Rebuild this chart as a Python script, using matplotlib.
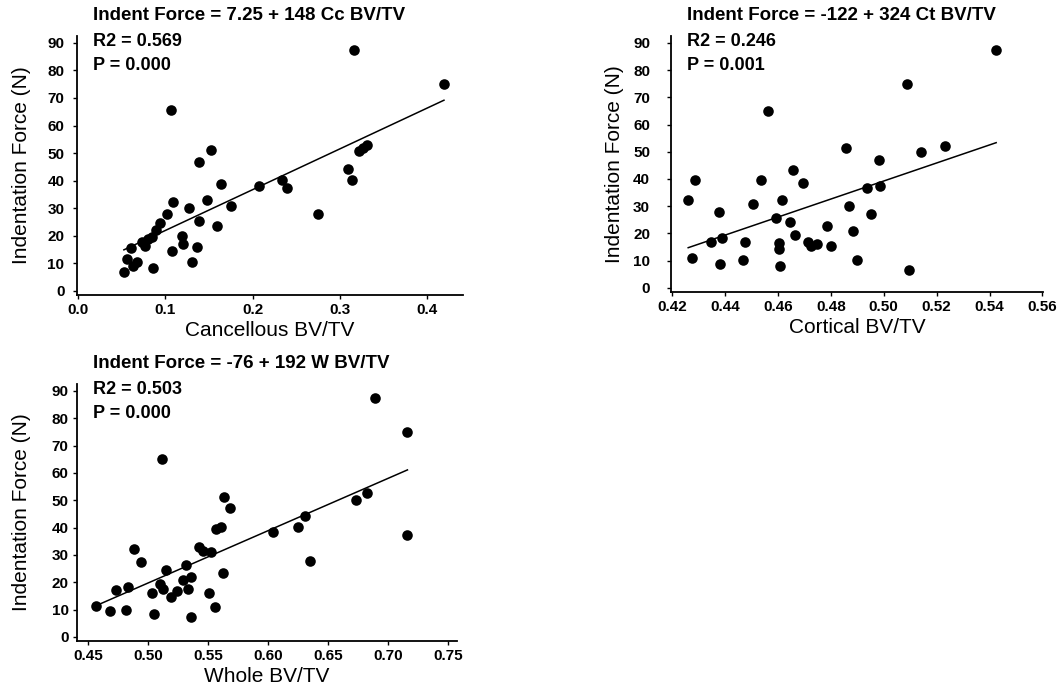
import numpy as np
import matplotlib
matplotlib.use("Agg")
import matplotlib.pyplot as plt

plt.rcParams['font.family'] = ['Liberation Sans', 'DejaVu Sans']

# cancellous BV/TV vs indentation force
canc_x = [0.0527, 0.0557, 0.0603, 0.0634, 0.0672, 0.0729, 0.0767, 0.0806, 0.0863, 0.0844,
          0.0893, 0.0939, 0.1016, 0.1061, 0.1073, 0.1084, 0.1187, 0.1199, 0.1271, 0.1302,
          0.1367, 0.1386, 0.1390, 0.1481, 0.1520, 0.1596, 0.1634, 0.1753, 0.2073, 0.2333,
          0.2398, 0.2753, 0.3093, 0.3135, 0.3162, 0.3223, 0.3268, 0.3307, 0.4192]
canc_y = [7.0, 11.6, 15.6, 9.1, 10.3, 17.8, 16.4, 18.8, 8.4, 19.7,
          22.1, 24.5, 27.8, 65.5, 14.4, 32.4, 20.0, 17.0, 30.0, 10.6,
          15.8, 25.5, 46.7, 33.0, 51.3, 23.6, 38.9, 30.8, 38.0, 40.4,
          37.4, 28.0, 44.3, 40.4, 87.4, 50.7, 51.9, 52.8, 75.1]

# cortical BV/TV
cort_x = [0.4261, 0.4275, 0.4286, 0.4347, 0.4378, 0.4381, 0.4387, 0.4469, 0.4475, 0.4507,
          0.4536, 0.4561, 0.4591, 0.4605, 0.4605, 0.4607, 0.4617, 0.4647, 0.4658, 0.4666,
          0.4695, 0.4712, 0.4727, 0.4749, 0.4787, 0.4802, 0.4859, 0.4869, 0.4884, 0.4899,
          0.4937, 0.4953, 0.4982, 0.4985, 0.5088, 0.5095, 0.5142, 0.5232, 0.5425]
cort_y = [32.2, 10.9, 39.6, 16.7, 27.7, 8.8, 18.2, 10.3, 16.7, 30.8,
          39.6, 65.0, 25.5, 16.4, 14.3, 7.9, 32.2, 24.1, 43.2, 19.4,
          38.7, 17.0, 15.5, 16.1, 22.6, 15.3, 51.3, 29.9, 21.0, 10.3,
          36.6, 27.1, 46.9, 37.5, 74.7, 6.6, 49.9, 52.1, 87.2]

# whole BV/TV
whole_x = [0.4565, 0.4679, 0.4732, 0.4815, 0.4832, 0.4884, 0.4940, 0.5032, 0.5051, 0.5096,
           0.5115, 0.5123, 0.5148, 0.5190, 0.5240, 0.5290, 0.5318, 0.5337, 0.5357, 0.5357,
           0.5421, 0.5457, 0.5504, 0.5523, 0.5559, 0.5568, 0.5607, 0.5623, 0.5637, 0.5684,
           0.6040, 0.6254, 0.6309, 0.6346, 0.6734, 0.6829, 0.6893, 0.7162, 0.7162]
whole_y = [11.3, 9.4, 17.3, 10.0, 18.3, 32.0, 27.4, 15.9, 8.5, 19.5,
           65.0, 17.7, 24.6, 14.6, 16.8, 20.7, 26.2, 17.7, 22.0, 7.3,
           32.9, 31.3, 16.1, 30.9, 11.0, 39.4, 40.2, 23.4, 51.2, 47.0,
           38.2, 40.2, 44.3, 27.8, 50.0, 52.7, 87.4, 74.8, 37.4]

titles = ["Indent Force = 7.25 + 148 Cc BV/TV",
          "Indent Force = -122 + 324 Ct BV/TV",
          "Indent Force = -76 + 192 W BV/TV"]
r2_text = ["R2 = 0.569", "R2 = 0.246", "R2 = 0.503"]
p_text = ["P = 0.000", "P = 0.001", "P = 0.000"]
xlabels = ["Cancellous BV/TV", "Cortical BV/TV", "Whole BV/TV"]
xticks = [[0.0, 0.1, 0.2, 0.3, 0.4],
          [0.42, 0.44, 0.46, 0.48, 0.50, 0.52, 0.54, 0.56],
          [0.45, 0.50, 0.55, 0.60, 0.65, 0.70, 0.75]]
xfmt = ["%.1f", "%.2f", "%.2f"]
xlims = [(-0.001, 0.441), (0.4196, 0.5602), (0.4408, 0.7575)]
yticks = list(range(0, 100, 10))

W, H = 1060, 690
fig = plt.figure(figsize=(W / 100, H / 100), dpi=100)

# panel boxes in pixels: left, top, right, bottom
boxes = [(77, 36, 463, 295), (671, 36, 1043, 292), (77, 384, 457, 641)]
data = [(canc_x, canc_y), (cort_x, cort_y), (whole_x, whole_y)]
ypads = [6, 12, 3]
ylab_px = [31, 624, 31]   # right edge of the rotated y label

for i in range(3):
    l, t, r, b = boxes[i]
    ax = fig.add_axes([l / W, 1 - b / H, (r - l) / W, (b - t) / H])
    x = np.array(data[i][0])
    y = np.array(data[i][1])
    ax.scatter(x, y, s=58, color='black', zorder=3, linewidths=0)
    k, c = np.polyfit(x, y, 1)
    xx = np.array([x.min(), x.max()])
    ax.plot(xx, c + k * xx, color='black', lw=1.1, zorder=2)

    ax.set_xlim(*xlims[i])
    ax.set_ylim(-1.5, 92.5)
    ax.set_xticks(xticks[i])
    ax.set_xticklabels([xfmt[i] % v for v in xticks[i]], fontweight='bold')
    ax.set_yticks(yticks)
    ax.set_yticklabels([str(v) for v in yticks], fontweight='bold')
    ax.tick_params(axis='both', labelsize=11, length=3, width=1, direction='out', color='black')
    ax.tick_params(axis='y', pad=ypads[i])
    ax.tick_params(axis='x', pad=3)
    for s in ['top', 'right']:
        ax.spines[s].set_visible(False)
    for s in ['left', 'bottom']:
        ax.spines[s].set_linewidth(1.3)
    ax.set_xlabel(xlabels[i], fontsize=15, labelpad=3)
    ax.set_ylabel("Indentation Force (N)", fontsize=15)
    ax.yaxis.set_label_coords((ylab_px[i] - l) / (r - l), 0.5)

    tx = (l + 16) / W
    fig.text(tx, 1 - (t - 21) / H, titles[i], fontsize=13.5, fontweight='bold', va='center')
    fig.text(tx, 1 - (t + 6) / H, r2_text[i], fontsize=13, fontweight='bold', va='center')
    fig.text(tx, 1 - (t + 30) / H, p_text[i], fontsize=13, fontweight='bold', va='center')

fig.savefig("out.png", dpi=100, facecolor='white')
